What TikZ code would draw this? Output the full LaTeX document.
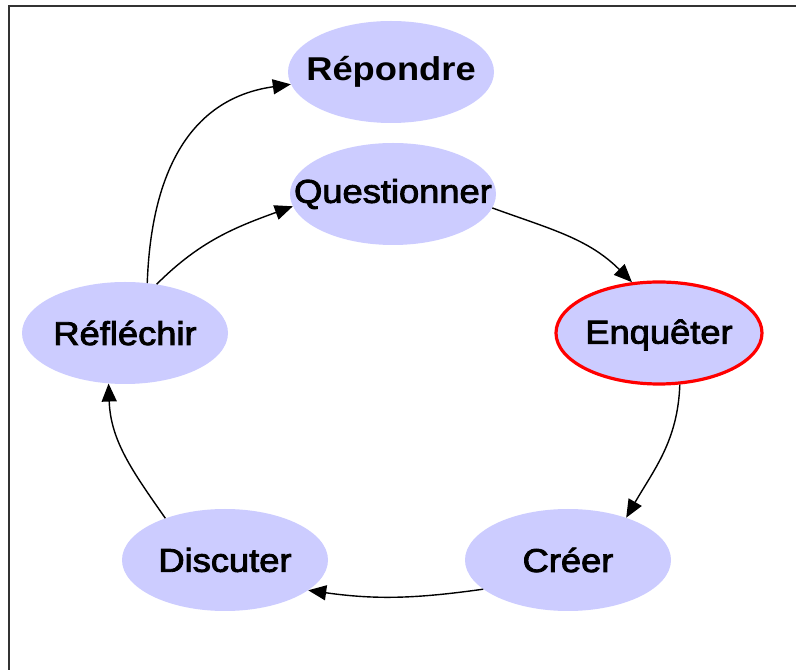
\documentclass[tikz,border=0pt]{standalone}
\usepackage{fontspec}
\setmainfont{Liberation Sans}
\newfontfamily\nodefont{Liberation Sans}[FakeBold=2.5]
\newfontfamily\boldnodefont{Liberation Sans Bold}
\usetikzlibrary{shapes.geometric,arrows.meta}
\definecolor{lav}{HTML}{CCCCFF}
\tikzset{
  bubble/.style={ellipse, fill=lav, draw=none, minimum width=206pt, minimum height=102pt, inner sep=0pt},
  hilite/.style={bubble, draw=red, line width=3.2pt},
  lbl/.style={inner sep=0pt, font=\nodefont\fontsize{33}{36}\selectfont},
  lblb/.style={inner sep=0pt, font=\boldnodefont\fontsize{33}{36}\selectfont},
  link/.style={line width=1.4pt, -{Triangle[length=18pt,width=15pt]}},
}
\begin{document}
\begin{tikzpicture}[x=1pt,y=1pt]
\useasboundingbox (0,0) rectangle (796,670);
\fill[white] (0,0) rectangle (796,670);
\draw[line width=2pt, black!80] (9,0) -- (9,664) -- (796,664);

\node[bubble] (rep) at (391,598) {};
\node[bubble] (que) at (393,476) {};
\node[hilite] (enq) at (659,337) {};
\node[bubble] (ref) at (125,337) {};
\node[bubble] (dis) at (225,110) {};
\node[bubble] (cre) at (568,110) {};

\node[lblb] at (rep) {\scalebox{1.1}[1]{Répondre}};
\node[lbl] at (que) {\scalebox{1.1}[1]{Questionner}};
\node[lbl] at ([yshift=-2pt]enq.center) {\scalebox{1.1}[1]{Enquêter}};
\node[lbl] at (ref) {\scalebox{1.1}[1]{Réfléchir}};
\node[lbl] at (dis) {\scalebox{1.1}[1]{Discuter}};
\node[lbl] at (cre) {\scalebox{1.1}[1]{Créer}};

\draw[link] (que.-8) to[out=-20, in=135] (enq.118);
\draw[link] (enq.-68) to[out=-92, in=60] (cre.36);
\draw[link] (cre.199) to[out=188, in=-8] (dis.-20);
\draw[link] (dis.145) to[out=125, in=-88] (ref.-108);
\draw[link] (ref.57) to[out=45, in=200] (que.187);
\draw[link] (ref.66) to[out=88, in=188, looseness=1.1] (rep.187);
\end{tikzpicture}
\end{document}
